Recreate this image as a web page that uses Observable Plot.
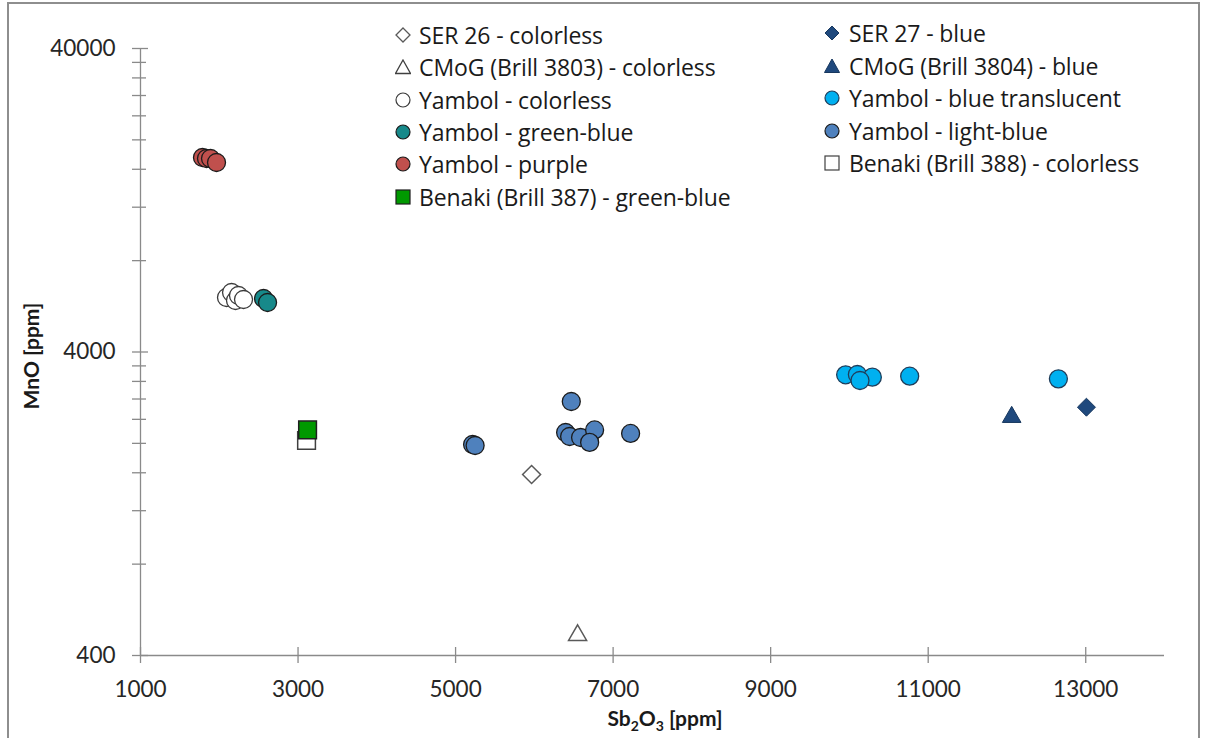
<!DOCTYPE html>
<html><head><meta charset="utf-8">
<script src="https://cdn.jsdelivr.net/npm/d3@7"></script>
<script src="https://cdn.jsdelivr.net/npm/@observablehq/plot@0.6"></script>
<style>
body{margin:0;background:#fff;}
#wrap{position:relative;width:1205px;height:738px;overflow:hidden;font-family:Lato,"Open Sans",sans-serif;background:#fff;}
#frame{position:absolute;left:7px;top:2px;width:1193px;height:800px;border:2px solid #8e8e8e;box-sizing:border-box;pointer-events:none;}
.leg{position:absolute;height:32px;display:flex;align-items:center;font-family:"Open Sans",sans-serif;font-size:23px;letter-spacing:-0.1px;color:#1a1a1a;white-space:nowrap;}
.leg svg{width:16px;height:16px;flex:none;}
</style></head>
<body><div id="wrap"><div id="chart"></div><div id="frame"></div></div>
<script>
// ---- data ----
const xTicks = [1000, 3000, 5000, 7000, 9000, 11000, 13000];
const yTicks = [400, 4000, 40000];
const yMinor = [800, 1200, 1600, 2000, 2400, 2800, 3200, 3600, 8000, 12000, 16000, 20000, 24000, 28000, 32000, 36000];

const ser26X = [5965], ser26Y = [1579];
const ser27X = [13009], ser27Y = [2631];
const cmog3803X = [6549], cmog3803Y = [476];
const cmog3804X = [12060], cmog3804Y = [2490];
const yamColorlessX = [2092, 2156, 2206, 2244, 2308];
const yamColorlessY = [6049, 6282, 5913, 6141, 5958];
const yamBlueTransX = [9952, 10101, 10291, 10134, 10765, 12653];
const yamBlueTransY = [3365, 3372, 3304, 3222, 3329, 3264];
const yamGreenBlueX = [2562, 2613];
const yamGreenBlueY = [6003, 5824];
const yamLightBlueX = [5216, 5248, 6469, 6397, 6448, 6587, 6765, 6702, 7222];
const yamLightBlueY = [1983, 1968, 2748, 2172, 2107, 2091, 2214, 2014, 2156];
const yamPurpleX = [1787, 1838, 1889, 1965];
const yamPurpleY = [17497, 17365, 17365, 16843];
const benaki388X = [3108], benaki388Y = [2044];
const benaki387X = [3121], benaki387Y = [2214];

const legendLeft = ["SER 26 - colorless", "CMoG (Brill 3803) - colorless", "Yambol - colorless", "Yambol - green-blue", "Yambol - purple", "Benaki (Brill 387) - green-blue"];
const legendRight = ["SER 27 - blue", "CMoG (Brill 3804) - blue", "Yambol - blue translucent", "Yambol - light-blue", "Benaki (Brill 388) - colorless"];

// ---- styles ----
const C = {
  white: "#ffffff", navy: "#1f497d", teal: "#17898a", purple: "#c0504d",
  cyan: "#00b0f0", lblue: "#4f81bd", green: "#009900"
};
const pts = (xs, ys) => xs.map((x, i) => ({x, y: ys[i]}));
const circ = (xs, ys, fill, stroke = "#1b1b1b") =>
  Plot.dot(pts(xs, ys), {x: "x", y: "y", r: 9, fill, stroke, strokeWidth: 1.3});

const chart = Plot.plot({
  width: 1205, height: 738,
  marginLeft: 140, marginRight: 41, marginTop: 48, marginBottom: 83,
  x: {domain: [1000, 14000]},
  y: {type: "log", domain: [400, 40000]},
  style: {fontFamily: "Lato, 'Open Sans', sans-serif", fontSize: "22.5px", color: "#262626", background: "white", overflow: "visible"},
  marks: [
    Plot.ruleX([1000], {stroke: "#8a8a8a", strokeWidth: 1.3}),
    Plot.ruleY([400], {stroke: "#8a8a8a", strokeWidth: 1.3}),
    Plot.axisY({ticks: yMinor, tickSize: 14, dx: 6, tickFormat: () => "", stroke: "#8a8a8a", strokeWidth: 1.3, label: null}),
    Plot.axisY({ticks: yTicks, tickSize: 16, dx: 8, tickPadding: 17, tickFormat: "d", stroke: "#8a8a8a", strokeWidth: 1.3, fill: "#262626", label: null}),
    Plot.axisX({ticks: xTicks, tickSize: 16, dy: -8, tickPadding: 18, tickFormat: "d", stroke: "#8a8a8a", strokeWidth: 1.3, fill: "#262626", label: null}),
    // series in Excel order
    Plot.dot(pts(ser26X, ser26Y), {x: "x", y: "y", symbol: "diamond2", r: 8.1, fill: "white", stroke: "#595959", strokeWidth: 1.5}),
    Plot.dot(pts(ser27X, ser27Y), {x: "x", y: "y", symbol: "diamond2", r: 8.1, fill: C.navy, stroke: "#17375e", strokeWidth: 1}),
    Plot.dot(pts(cmog3803X, cmog3803Y), {x: "x", y: "y", symbol: "triangle", r: 6.7, dy: 2.6, fill: "white", stroke: "#595959", strokeWidth: 1.5}),
    Plot.dot(pts(cmog3804X, cmog3804Y), {x: "x", y: "y", symbol: "triangle", r: 6.9, dy: 2.6, fill: C.navy, stroke: "#17375e", strokeWidth: 1}),
    circ(yamColorlessX, yamColorlessY, C.white, "#3a3a3a"),
    circ(yamBlueTransX, yamBlueTransY, C.cyan, "#1f3d5a"),
    circ(yamGreenBlueX, yamGreenBlueY, C.teal),
    circ(yamLightBlueX, yamLightBlueY, C.lblue),
    circ(yamPurpleX, yamPurpleY, C.purple),
    Plot.dot(pts(benaki388X, benaki388Y), {x: "x", y: "y", symbol: "square", r: 10, fill: "white", stroke: "#404040", strokeWidth: 1.5}),
    Plot.dot(pts(benaki387X, benaki387Y), {x: "x", y: "y", symbol: "square", r: 10, fill: C.green, stroke: "#1f1f1f", strokeWidth: 1.5})
  ]
});
document.getElementById("chart").appendChild(chart);

const svg = d3.select(chart);
// y-axis title
svg.append("text").attr("transform", "translate(30,356) rotate(-90)")
  .attr("text-anchor", "middle").attr("dominant-baseline", "central")
  .attr("font-weight", "bold").attr("font-size", 21).attr("fill", "#1a1a1a")
  .text("MnO [ppm]");
// x-axis title with subscripts
const t = svg.append("text").attr("x", 665).attr("y", 726).attr("text-anchor", "middle")
  .attr("font-weight", "bold").attr("font-size", 21).attr("fill", "#1a1a1a");
t.append("tspan").text("Sb");
t.append("tspan").attr("font-size", 14).attr("dy", 5).text("2");
t.append("tspan").attr("dy", -5).text("O");
t.append("tspan").attr("font-size", 14).attr("dy", 5).text("3");
t.append("tspan").attr("dy", -5).text(" [ppm]");

// legend
const markers = {
  diamondW: '<polygon points="0,-7 7,0 0,7 -7,0" fill="#fff" stroke="#595959" stroke-width="1.3"/>',
  triW: '<polygon points="0,-7 7.5,6.5 -7.5,6.5" fill="#fff" stroke="#404040" stroke-width="1.3"/>',
  circW: '<circle r="7" fill="#fff" stroke="#3a3a3a" stroke-width="1.2"/>',
  circTeal: `<circle r="7" fill="${C.teal}" stroke="#1b1b1b" stroke-width="1.2"/>`,
  circPurple: `<circle r="7" fill="${C.purple}" stroke="#1b1b1b" stroke-width="1.2"/>`,
  sqGreen: `<rect x="-7" y="-7" width="14" height="14" fill="${C.green}" stroke="#1f1f1f" stroke-width="1.2"/>`,
  diamondN: `<polygon points="0,-7 7,0 0,7 -7,0" fill="${C.navy}" stroke="#17375e" stroke-width="1"/>`,
  triN: `<polygon points="0,-7 7.5,6.5 -7.5,6.5" fill="${C.navy}" stroke="#17375e" stroke-width="1"/>`,
  circCyan: `<circle r="7" fill="${C.cyan}" stroke="#1f3d5a" stroke-width="1.2"/>`,
  circLBlue: `<circle r="7" fill="${C.lblue}" stroke="#1b1b1b" stroke-width="1.2"/>`,
  sqW: '<rect x="-7" y="-7" width="14" height="14" fill="#fff" stroke="#404040" stroke-width="1.2"/>'
};
const leftMarkers = ["diamondW", "triW", "circW", "circTeal", "circPurple", "sqGreen"];
const rightMarkers = ["diamondN", "triN", "circCyan", "circLBlue", "sqW"];
const wrap = document.getElementById("wrap");
function addLegend(labels, mk, left, top0, step, gap) {
  labels.forEach((lab, i) => {
    const d = document.createElement("div");
    d.className = "leg";
    d.style.left = left + "px";
    d.style.top = (top0 + i * step - 16) + "px";
    d.innerHTML = `<svg viewBox="-8 -8 16 16" style="margin-right:${gap}px">${markers[mk[i]]}</svg><span>${lab}</span>`;
    wrap.appendChild(d);
  });
}
addLegend(legendLeft, leftMarkers, 395, 35, 32.3, 8);
addLegend(legendRight, rightMarkers, 824, 33.3, 32.5, 9);
</script>
</body></html>
